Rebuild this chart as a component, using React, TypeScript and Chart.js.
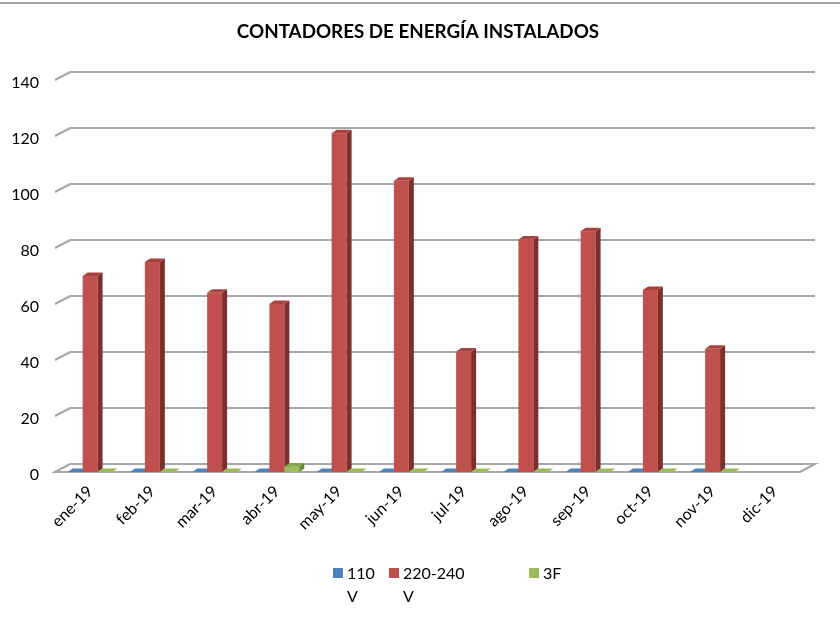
import React, { useEffect, useRef } from "react";
import { Chart, registerables } from "chart.js";

Chart.register(...registerables);

const TITLE = "CONTADORES DE ENERGÍA INSTALADOS";
const CATEGORIES = ["ene-19", "feb-19", "mar-19", "abr-19", "may-19", "jun-19", "jul-19", "ago-19", "sep-19", "oct-19", "nov-19", "dic-19"];
const SERIES_NAMES = ["110 V", "220-240 V", "3F"];
const V_110 = [0, 0, 0, 0, 0, 0, 0, 0, 0, 0, 0, null];
const V_220_240 = [70, 75, 64, 60, 121, 104, 43, 83, 86, 65, 44, null];
const V_3F = [0, 0, 0, 2, 0, 0, 0, 0, 0, 0, 0, null];
const Y_MIN = 0;
const Y_MAX = 140;
const Y_STEP = 20;

const FRONT = ["#4F81BD", "#C0504D", "#9BBB59"];
const TOP = ["#456FA3", "#A8423F", "#86A34B"];
const SIDE = ["#355986", "#7E2F2D", "#6C843A"];

const FONT = "Lato, 'Open Sans', 'DejaVu Sans', sans-serif";
const DX = 5;
const DY = -3.5;
const WALL_DX = 15;
const WALL_DY = -8;

const threeD = {
  id: "threeD",
  beforeDatasetsDraw(chart: any) {
    const ctx = chart.ctx;
    const area = chart.chartArea;
    const ys = chart.scales.y;
    const left = area.left;
    const right = area.right;
    ctx.save();
    // y tick labels
    ctx.fillStyle = "#000";
    ctx.font = `16px ${FONT}`;
    ctx.textAlign = "right";
    ctx.textBaseline = "middle";
    ys.ticks.forEach((t: any) => {
      ctx.fillText(String(t.label), 39, ys.getPixelForValue(t.value) + 3);
    });
    // back-wall gridlines with side stubs
    ctx.strokeStyle = "#A6A6A6";
    ctx.lineWidth = 2;
    ys.ticks.forEach((t: any) => {
      if (t.value === 0) return;
      const y = ys.getPixelForValue(t.value);
      ctx.beginPath();
      ctx.moveTo(left - 4, y);
      ctx.lineTo(left - 4 + WALL_DX, y + WALL_DY);
      ctx.lineTo(right + 9, y + WALL_DY);
      ctx.stroke();
    });
    // floor
    const y0 = ys.getPixelForValue(0);
    ctx.beginPath();
    ctx.moveTo(left - 4, y0);
    ctx.lineTo(left - 4 + WALL_DX, y0 + WALL_DY);
    ctx.lineTo(right + 9, y0 + WALL_DY);
    ctx.lineTo(right - 6, y0);
    ctx.closePath();
    ctx.fillStyle = "#FFFFFF";
    ctx.fill();
    ctx.stroke();

    // bars, category by category
    const metas = chart.data.datasets.map((_: any, i: number) => chart.getDatasetMeta(i));
    for (let c = 0; c < CATEGORIES.length; c++) {
      metas.forEach((meta: any, di: number) => {
        const raw = chart.data.datasets[di].data[c];
        if (raw === null || raw === undefined) return;
        const el = meta.data[c];
        if (!el) return;
        const { x, y, base, width } = el.getProps(["x", "y", "base", "width"], true);
        const xl = x - width / 2;
        const xr = x + width / 2;
        if (base - y > 0.5) {
          ctx.fillStyle = FRONT[di];
          ctx.fillRect(xl, y, width, base - y);
          ctx.fillStyle = SIDE[di];
          ctx.beginPath();
          ctx.moveTo(xr, y);
          ctx.lineTo(xr + DX, y + DY);
          ctx.lineTo(xr + DX, base + DY);
          ctx.lineTo(xr, base);
          ctx.closePath();
          ctx.fill();
        }
        ctx.fillStyle = base - y > 0.5 ? TOP[di] : FRONT[di];
        ctx.beginPath();
        ctx.moveTo(xl, y);
        ctx.lineTo(xl + DX, y + DY);
        ctx.lineTo(xr + DX, y + DY);
        ctx.lineTo(xr, y);
        ctx.closePath();
        ctx.fill();
      });
    }
    ctx.restore();
    return false;
  },
  afterDraw(chart: any) {
    const ctx = chart.ctx;
    ctx.save();
    ctx.strokeStyle = "#A0A0A0";
    ctx.lineWidth = 2;
    ctx.beginPath();
    ctx.moveTo(0, 3);
    ctx.lineTo(chart.width, 3);
    ctx.stroke();
    ctx.fillStyle = "#000";
    ctx.font = `bold 18.8px ${FONT}`;
    ctx.textAlign = "center";
    ctx.textBaseline = "middle";
    ctx.fillText(TITLE, 418, 32);
    const lx = [333, 389, 529];
    ctx.font = `16px ${FONT}`;
    ctx.textAlign = "left";
    chart.data.datasets.forEach((ds: any, i: number) => {
      ctx.fillStyle = FRONT[i];
      ctx.fillRect(lx[i], 568, 10, 10);
      ctx.fillStyle = "#000";
      const words = String(ds.label).split(" ");
      words.forEach((w: string, k: number) => {
        ctx.fillText(w, lx[i] + 14, 574 + k * 23);
      });
    });
    ctx.restore();
  },
};

export default function App() {
  const ref = useRef<HTMLCanvasElement | null>(null);
  useEffect(() => {
    document.body.style.margin = "0";
    const canvas = ref.current;
    if (!canvas) return;
    const chart = new Chart(canvas, {
      type: "bar",
      data: {
        labels: CATEGORIES,
        datasets: [
          { label: SERIES_NAMES[0], data: V_110, backgroundColor: FRONT[0] },
          { label: SERIES_NAMES[1], data: V_220_240, backgroundColor: FRONT[1] },
          { label: SERIES_NAMES[2], data: V_3F, backgroundColor: FRONT[2] },
        ],
      },
      options: {
        responsive: false,
        animation: false,
        events: [],
        layout: { padding: { top: 80, right: 34, left: 0, bottom: 0 } },
        datasets: { bar: { categoryPercentage: 0.72, barPercentage: 1 } },
        plugins: {
          legend: { display: false },
          title: { display: false },
          tooltip: { enabled: false },
        },
        scales: {
          x: {
            grid: { display: false, drawTicks: false },
            border: { display: false },
            ticks: {
              autoSkip: false,
              maxRotation: 45,
              minRotation: 45,
              padding: 10,
              color: "#000",
              font: { family: FONT, size: 16 },
            },
            afterFit(scale: any) {
              scale.height = 148;
            },
          },
          y: {
            min: Y_MIN,
            max: Y_MAX,
            grid: { display: false, drawTicks: false },
            border: { display: false },
            ticks: { stepSize: Y_STEP, display: false },
            afterFit(scale: any) {
              scale.width = 59;
            },
          },
        },
      },
      plugins: [threeD],
    } as any);
    return () => chart.destroy();
  }, []);
  return (
    <div style={{ width: 840, height: 620, background: "#fff" }}>
      <canvas ref={ref} width={840} height={620} style={{ display: "block" }} />
    </div>
  );
}
